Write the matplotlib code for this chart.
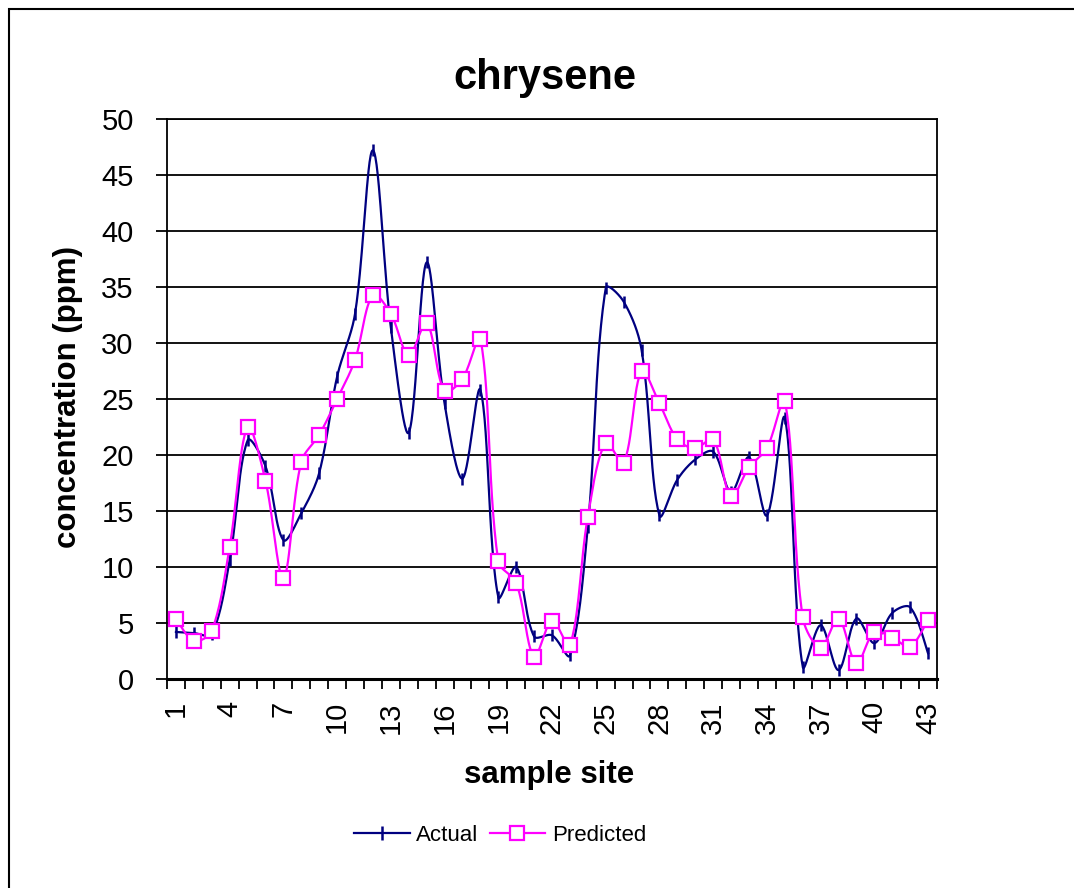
import numpy as np
import matplotlib
matplotlib.use("Agg")
import matplotlib.pyplot as plt
from matplotlib.patches import Rectangle
from matplotlib.lines import Line2D

plt.rcParams['font.family'] = ['Liberation Sans', 'DejaVu Sans']

sites = list(range(1, 44))
actual = [4.2, 4.1, 4.0, 10.6, 21.3, 19.0, 12.4, 14.8, 18.4, 27.0,
          32.6, 47.2, 31.4, 22.0, 37.2, 24.6, 17.9, 25.8, 7.3, 10.0,
          3.8, 3.9, 2.1, 13.6, 34.9, 33.7, 29.4, 14.6, 17.8, 19.6,
          20.3, 16.7, 19.8, 14.6, 23.3, 1.1, 4.8, 0.8, 5.4, 3.2,
          5.9, 6.4, 2.3]
predicted = [5.4, 3.4, 4.3, 11.8, 22.5, 17.7, 9.0, 19.4, 21.8, 25.0,
             28.5, 34.3, 32.6, 28.9, 31.8, 25.7, 26.8, 30.4, 10.5, 8.6,
             2.0, 5.2, 3.0, 14.5, 21.1, 19.3, 27.5, 24.6, 21.4, 20.6,
             21.4, 16.3, 18.9, 20.6, 24.8, 5.5, 2.8, 5.4, 1.4, 4.2,
             3.7, 2.9, 5.3]
y_ticks = list(range(0, 51, 5))
x_tick_labels = [str(s) for s in range(1, 44, 3)]


def smooth(xs, ys, sx=17.9, sy=11.2, n=30, tension=1 / 3):
    """Excel-like smoothed line: Bezier with chord-weighted tangents in screen space."""
    x = np.asarray(xs, float) * sx
    y = np.asarray(ys, float) * sy
    P = np.column_stack([x, y])
    m = len(P)
    d = np.hypot(np.diff(P[:, 0]), np.diff(P[:, 1]))
    outx, outy = [], []
    t = np.linspace(0, 1, n)
    for i in range(m - 1):
        p0, p3 = P[i], P[i + 1]
        if i > 0:
            T0 = P[i + 1] - P[i - 1]
            p1 = p0 + T0 * tension * d[i] / (d[i - 1] + d[i])
        else:
            p1 = p0 + (P[i + 1] - P[i]) * tension * 0.5
        if i + 2 < m:
            T1 = P[i + 2] - P[i]
            p2 = p3 - T1 * tension * d[i] / (d[i] + d[i + 1])
        else:
            p2 = p3 - (P[i + 1] - P[i]) * tension * 0.5
        b = ((1 - t) ** 3)[:, None] * p0 + (3 * (1 - t) ** 2 * t)[:, None] * p1 \
            + (3 * (1 - t) * t ** 2)[:, None] * p2 + (t ** 3)[:, None] * p3
        outx.extend(b[:, 0] / sx)
        outy.extend(b[:, 1] / sy)
    return np.array(outx), np.array(outy)


fig = plt.figure(figsize=(10.74, 8.88), dpi=100)
fig.patches.append(Rectangle((9 / 1074, -0.1), 1.2, 1.1 - 9 / 888,
                             transform=fig.transFigure, fill=False,
                             edgecolor='black', linewidth=1.5, zorder=0))
ax = fig.add_axes([167 / 1074, 1 - 679 / 888, (937 - 167) / 1074, (679 - 119) / 888])

navy = '#000080'
mag = '#FF00FF'

for yv in y_ticks[1:]:
    ax.axhline(yv, color='black', linewidth=1.3, zorder=1)

sx_, sy_ = smooth(sites, actual)
ax.plot(sx_, sy_, color=navy, linewidth=1.6, zorder=3)
ax.plot(sites, actual, linestyle='none', marker='|', markersize=9,
        markeredgewidth=1.8, color=navy, zorder=3)
px_, py_ = smooth(sites, predicted)
ax.plot(px_, py_, color=mag, linewidth=1.6, zorder=4)
ax.plot(sites, predicted, linestyle='none', marker='s', markersize=9.5,
        markeredgewidth=1.6, markeredgecolor=mag, markerfacecolor='white', zorder=5)

ax.set_xlim(0.5, 43.5)
ax.set_ylim(0, 50)
ax.set_yticks(y_ticks)
ax.set_yticklabels([str(v) for v in y_ticks], fontsize=21)
ax.set_xticks(list(range(1, 44, 3)))
ax.set_xticklabels(x_tick_labels, rotation=90, fontsize=21)
ax.set_xticks(np.arange(0.5, 44, 1.0), minor=True)
ax.tick_params(axis='x', which='major', length=0, pad=16)
ax.tick_params(axis='x', which='minor', length=7, width=1.3, direction='out')
ax.tick_params(axis='y', which='major', length=8, width=1.3, direction='out', pad=16)
for side, sp in ax.spines.items():
    sp.set_linewidth(1.3)
    sp.set_color('black')
ax.spines['bottom'].set_linewidth(2.2)

fig.text(545 / 1074, 1 - 78 / 888, 'chrysene', ha='center', va='center',
         fontsize=30, fontweight='bold')
fig.text(68 / 1074, 1 - 397 / 888, 'concentration (ppm)', ha='center', va='center',
         rotation=90, fontsize=22.5, fontweight='bold')
fig.text(549 / 1074, 1 - 775 / 888, 'sample site', ha='center', va='center',
         fontsize=22.5, fontweight='bold')

handles = [Line2D([], [], color=navy, linewidth=1.6, marker='|', markersize=10,
                  markeredgewidth=1.8),
           Line2D([], [], color=mag, linewidth=1.6, marker='s', markersize=9.5,
                  markeredgewidth=1.6, markeredgecolor=mag, markerfacecolor='white')]
fig.legend(handles, ['Actual', 'Predicted'], loc='center',
           bbox_to_anchor=(500 / 1074, 1 - 835 / 888), ncol=2, frameon=False,
           fontsize=16, handlelength=2.5, handletextpad=0.3, columnspacing=0.5)

fig.savefig('out.png', dpi=100)
